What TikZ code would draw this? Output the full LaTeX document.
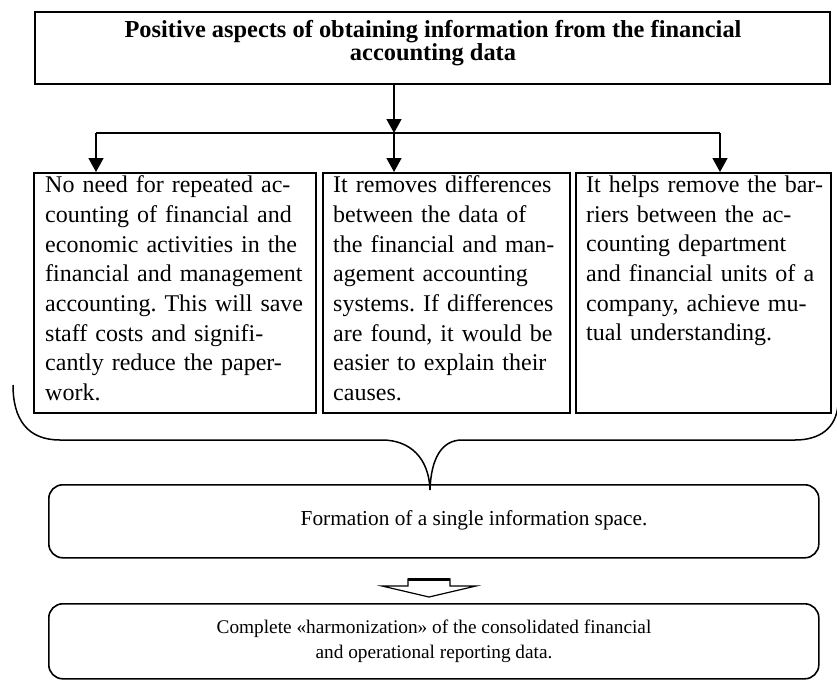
\documentclass[tikz,border=0pt]{standalone}
\usepackage{fontspec}
\setmainfont{Liberation Serif}
\usetikzlibrary{arrows.meta}
\frenchspacing
\begin{document}
\begin{tikzpicture}[x=1pt,y=-1pt,
  box/.style={draw, line width=1.6pt, inner sep=0pt, anchor=north west},
  rbox/.style={draw, line width=1.6pt, inner sep=0pt, anchor=north west, rounded corners=14pt},
  body/.style={anchor=north west, inner sep=0pt, align=left, text width=290pt, font=\fontsize{24}{29.7}\selectfont\frenchspacing},
  arr/.style={line width=1.5pt, -{Triangle[width=15pt,length=14pt]}},
  line/.style={line width=1.5pt}]
\useasboundingbox (0,0) rectangle (837,680);
% header
\node[box, line width=2.4pt, minimum width=795pt, minimum height=72pt] (top) at (34,11) {};
\node[align=center, inner sep=0pt, font=\fontsize{24.4}{23.5}\selectfont\bfseries] (toptext) at (433,43)
  {Positive aspects of obtaining information from the financial\\accounting data};
% three boxes
\node[box, minimum width=282pt, minimum height=240pt] (b1) at (33,172) {};
\node[box, minimum width=247pt, minimum height=240pt] (b2) at (322,172) {};
\node[box, minimum width=255pt, minimum height=240pt] (b3) at (575,172) {};
\node[body] (t1) at (45,175.5) {No need for repeated ac-\\counting of financial and\\economic activities in the\\financial and management\\accounting. This will save\\staff costs and signifi-\\cantly reduce the paper-\\work.};
\node[body] (t2) at (333,175.5) {It removes differences\\between the data of\\the financial and man-\\agement accounting\\systems. If differences\\are found, it would be\\easier to explain their\\causes.};
\node[body] (t3) at (586,175.5) {It helps remove the bar-\\riers between the ac-\\counting department\\and financial units of a\\company, achieve mu-\\tual understanding.};
% connectors
\coordinate (j1) at (96,133);
\coordinate (j2) at (394,133);
\coordinate (j3) at (720,133);
\draw[arr] (top.south -| j2) -- (j2);
\draw[line] (j1) -- (j3);
\draw[arr] (j1) -- (j1 |- b1.north);
\draw[arr] (j2) -- (j2 |- b2.north);
\draw[arr] (j3) -- (j3 |- b3.north);
% formation box
\node[rbox, minimum width=770pt, minimum height=73pt] (form) at (48,484) {};
\node[inner sep=0pt, font=\fontsize{21.3}{24}\selectfont] (formtext) at (474,520.5) {Formation of a single information space.};
% brace
\coordinate (tip) at (430,490);
\draw[line] (13,385) .. controls (13,420) and (28,440) .. (60,440) -- (382,440)
  .. controls (410,440) and (429,458) .. (tip)
  .. controls (431,458) and (442,440) .. (462,440) -- (795,440)
  .. controls (820,440) and (836,428) .. (838,405);
% final box
\node[rbox, minimum width=770pt, minimum height=75pt] (final) at (48,603) {};
\node[align=center, inner sep=0pt, font=\fontsize{19.3}{25}\selectfont] (finaltext) at (434,641.5)
  {Complete «harmonization» of the consolidated financial\\and operational reporting data.};
% hollow arrow
\draw[line width=1.2pt, line join=miter] (408,586) -- (408,579) -- (450,579) -- (450,586) -- (476,586) -- (429,597) -- (382,586) -- cycle;
\draw[line width=2.6pt] (408,579.5) -- (450,579.5);
\end{tikzpicture}
\end{document}
